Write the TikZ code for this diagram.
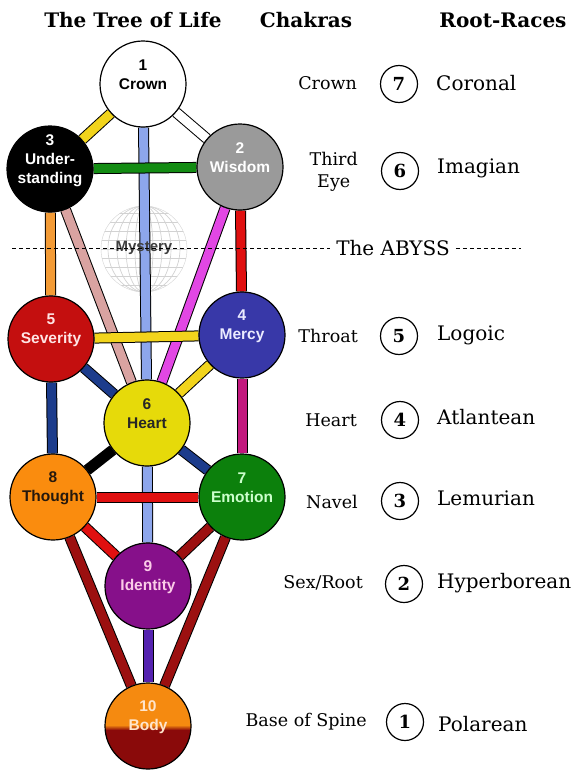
\documentclass[tikz,border=0pt]{standalone}
\usepackage{fontspec}
\setmainfont{DejaVu Serif}
\newfontfamily\sefirafont{Liberation Sans}
\usetikzlibrary{positioning, backgrounds}

\definecolor{chyellow}{HTML}{F2D41C}
\definecolor{chblue}{HTML}{8DA6EC}
\definecolor{chgreen}{HTML}{138C13}
\definecolor{chorange}{HTML}{F39B36}
\definecolor{chpink}{HTML}{D9A3A1}
\definecolor{chmagenta}{HTML}{E247E4}
\definecolor{chred}{HTML}{E01010}
\definecolor{chnavy}{HTML}{1C3C8C}
\definecolor{chviolet}{HTML}{C2187E}
\definecolor{chdarkred}{HTML}{9C1010}
\definecolor{chindigo}{HTML}{5523B0}
\definecolor{wisdomgray}{HTML}{9A9A9A}
\definecolor{severityred}{HTML}{C40F0F}
\definecolor{mercyblue}{HTML}{3838A8}
\definecolor{heartyellow}{HTML}{E6DA0A}
\definecolor{thoughtorange}{HTML}{FA8C0E}
\definecolor{emotiongreen}{HTML}{0C800C}
\definecolor{identitypurple}{HTML}{86108A}
\definecolor{bodyorange}{HTML}{F58A10}
\definecolor{bodyred}{HTML}{8A0A0A}

\tikzset{
  sephira/.style={circle, draw=black, line width=1.2pt, minimum size=86pt, inner sep=0pt},
  seflabel/.style={align=center, inner sep=0pt, font=\sefirafont\bfseries\fontsize{15.5}{19}\selectfont},
  channel/.style={double=#1, double distance=9pt, line width=1pt},
  racenum/.style={circle, draw, line width=1.2pt, minimum size=37pt, inner sep=0pt, font=\bfseries\fontsize{18}{20}\selectfont},
  chakra/.style={anchor=east, align=center, inner sep=0pt, font=\fontsize{17.5}{22}\selectfont},
  race/.style={anchor=west, inner sep=0pt, font=\fontsize{20}{24}\selectfont},
  heading/.style={font=\bfseries\fontsize{20}{24}\selectfont}
}

\begin{document}
\begin{tikzpicture}[x=1pt, y=-1pt]
	\useasboundingbox (0,0) rectangle (583,779);

	% headings
	\node[heading] (hTree) at (133,20) {The Tree of Life};
	\node[heading] (hChakra) at (306,20) {Chakras};
	\node[heading] (hRace) at (503,20) {Root-Races};

	% the sephiroth
	\node[sephira, fill=white] (crown) at (143,84) {};
	\node[sephira, fill=black] (under) at (50,169) {};
	\node[sephira, fill=wisdomgray] (wisdom) at (240,167) {};
	\node[sephira, fill=severityred] (severity) at (51,339) {};
	\node[sephira, fill=mercyblue] (mercy) at (242,335) {};
	\node[sephira, fill=heartyellow] (heart) at (147,423) {};
	\node[sephira, fill=thoughtorange] (thought) at (53,497) {};
	\node[sephira, fill=emotiongreen] (emotion) at (242,497) {};
	\node[sephira, fill=identitypurple] (identity) at (148,586) {};
	\node[sephira, fill=bodyorange, path picture={
		\fill[bodyred] ([yshift=-3pt]path picture bounding box.west) rectangle (path picture bounding box.south east);
		\shade[top color=bodyorange, bottom color=bodyred] ([yshift=1pt]path picture bounding box.west) rectangle ([yshift=-4pt]path picture bounding box.east);
	}] (body) at (148,726) {};

	\node[seflabel] (crownT) at ([yshift=9pt]crown.center) {1\\Crown};
	\node[seflabel, white] (underT) at ([yshift=8pt]under.center) {3\\Under-\\standing};
	\node[seflabel, white] (wisdomT) at ([yshift=9pt]wisdom.center) {2\\Wisdom};
	\node[seflabel, red!10] (severityT) at ([yshift=9pt]severity.center) {5\\Severity};
	\node[seflabel, blue!8] (mercyT) at ([yshift=9pt]mercy.center) {4\\Mercy};
	\node[seflabel, black!85] (heartT) at ([yshift=9pt]heart.center) {6\\Heart};
	\node[seflabel, black!80!brown] (thoughtT) at ([yshift=9pt]thought.center) {8\\Thought};
	\node[seflabel, green!20] (emotionT) at ([yshift=9pt]emotion.center) {7\\Emotion};
	\node[seflabel, magenta!20] (identityT) at ([yshift=9pt]identity.center) {9\\Identity};
	\node[seflabel, orange!20] (bodyT) at ([yshift=9pt]body.center) {10\\Body};

	\begin{scope}[on background layer]
		\node[circle, draw=gray!35, minimum size=86pt, inner sep=0pt, path picture={
			\foreach \r in {9,18,27,36}
				\draw[gray!35, line width=0.7pt] (path picture bounding box.center) ellipse (\r pt and 43pt);
			\foreach \d in {-36,-27,...,36}
				\draw[gray!35, line width=0.7pt] ([yshift=\d pt]path picture bounding box.west) -- ([yshift=\d pt]path picture bounding box.east);
		}] (mystery) at (144,249) {};
		\draw[channel=chyellow] (crown) -- (under);
		\draw[channel=white] (crown) -- (wisdom);
		\draw[channel=chblue] (crown) -- (heart);
		\draw[channel=chgreen] (under) -- (wisdom);
		\draw[channel=chorange] (under) -- (severity);
		\draw[channel=chpink] (under) -- (heart);
		\draw[channel=chmagenta] (wisdom) -- (heart);
		\draw[channel=chred] (wisdom) -- (mercy);
		\draw[channel=chyellow] (severity) -- (mercy);
		\draw[channel=chnavy] (severity) -- (heart);
		\draw[channel=chyellow] (mercy) -- (heart);
		\draw[channel=chnavy] (severity) -- (thought);
		\draw[channel=chviolet] (mercy) -- (emotion);
		\draw[channel=black] (heart) -- (thought);
		\draw[channel=chnavy] (heart) -- (emotion);
		\draw[channel=chblue] (heart) -- (identity);
		\draw[channel=chred] (thought) -- (emotion);
		\draw[channel=chred] (thought) -- (identity);
		\draw[channel=chdarkred] (emotion) -- (identity);
		\draw[channel=chdarkred] (thought) -- (body);
		\draw[channel=chdarkred] (emotion) -- (body);
		\draw[channel=chindigo] (identity) -- (body);
	\end{scope}

	\node[seflabel, black!75, font=\sefirafont\bfseries\fontsize{15}{18}\selectfont] (mysteryT) at (144,248) {Mystery};

	% the abyss
	\coordinate (abyssL) at (12,248);
	\coordinate (abyssR) at (521,248);
	\node[inner sep=6pt, font=\fontsize{20}{24}\selectfont] (abyss) at (393,248) {The ABYSS};
	\draw[dashed, dash pattern=on 4pt off 3pt] (abyssL) -- (abyss.west);
	\draw[dashed, dash pattern=on 4pt off 3pt] (abyss.east) -- (abyssR);

	% chakras and root-races
	\node[chakra] (cCrown) at (357,83) {Crown};
	\node[chakra] (cEye) at (358,172) {Third\\Eye};
	\node[chakra] (cThroat) at (358,336) {Throat};
	\node[chakra] (cHeart) at (357,420) {Heart};
	\node[chakra] (cNavel) at (358,502) {Navel};
	\node[chakra] (cSex) at (363,583) {Sex/Root};
	\node[chakra] (cBase) at (367,722) {Base of Spine};

	\node[racenum] (n7) at (399,84) {7};
	\node[racenum] (n6) at (400,171) {6};
	\node[racenum] (n5) at (399,336) {5};
	\node[racenum] (n4) at (400,420) {4};
	\node[racenum] (n3) at (400,501) {3};
	\node[racenum] (n2) at (404,584) {2};
	\node[racenum] (n1) at (405,722) {1};

	\node[race] (rCoronal) at (436,83) {Coronal};
	\node[race] (rImagian) at (437,168) {Imagian};
	\node[race] (rLogoic) at (437,335) {Logoic};
	\node[race] (rAtlantean) at (437,417) {Atlantean};
	\node[race] (rLemurian) at (437,498) {Lemurian};
	\node[race] (rHyper) at (437,583) {Hyperborean};
	\node[race] (rPolar) at (438,724) {Polarean};
\end{tikzpicture}
\end{document}
